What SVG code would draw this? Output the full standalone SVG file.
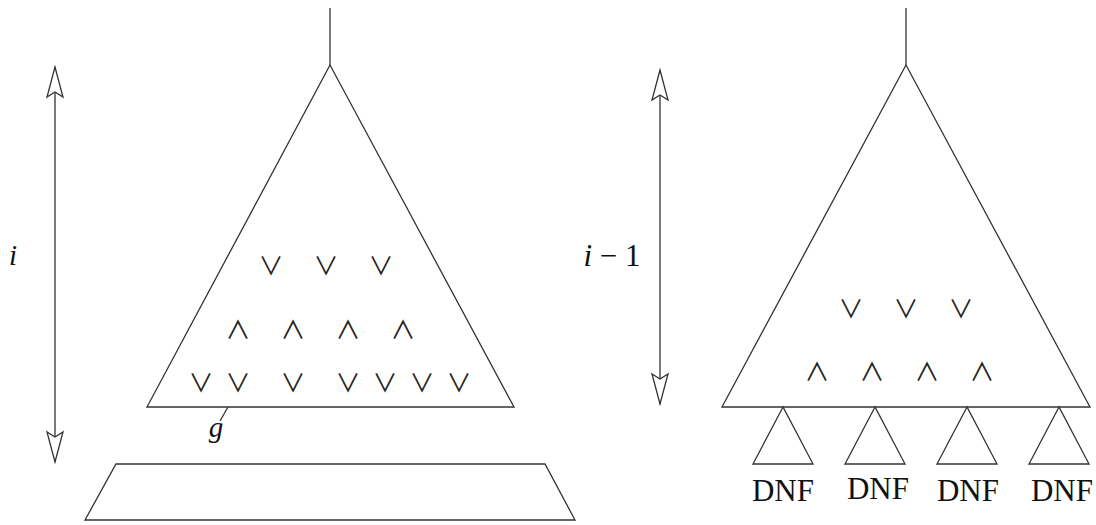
<svg xmlns="http://www.w3.org/2000/svg" width="1096" height="525" viewBox="0 0 1096 525">
<defs>
<style>
.ln{fill:none;stroke:#333;stroke-width:1.3}
.sym{font-family:"Noto Sans CJK SC","DejaVu Sans",sans-serif;font-weight:400;font-size:25px;fill:#222;text-anchor:middle}
.lbl{font-family:"Liberation Serif",serif;font-size:31px;fill:#111;text-anchor:middle}
.it{font-family:"Liberation Serif",serif;font-style:italic;font-size:29px;fill:#111;text-anchor:middle}
</style>
<marker id="oa" markerWidth="34" markerHeight="20" refX="32" refY="9" orient="auto-start-reverse" markerUnits="userSpaceOnUse" viewBox="0 0 34 18">
<path d="M32,9 L2,1 L7,9 L2,17 Z" fill="#fff" stroke="#333" stroke-width="1.3"/>
</marker>
</defs>
<rect width="1096" height="525" fill="#fff"/>
<g id="left-tree">
<line class="ln" x1="330" y1="8" x2="330" y2="65"/>
<polygon class="ln" points="330,65 147,407 514,407"/>
<text class="sym" x="271" y="275">∨</text><text class="sym" x="326" y="275">∨</text><text class="sym" x="381" y="275">∨</text>
<text class="sym" x="238" y="339">∧</text><text class="sym" x="293" y="339">∧</text><text class="sym" x="348" y="339">∧</text><text class="sym" x="403" y="339">∧</text>
<text class="sym" x="201" y="392">∨</text><text class="sym" x="238" y="392">∨</text><text class="sym" x="293" y="392">∨</text><text class="sym" x="348" y="392">∨</text><text class="sym" x="385" y="392">∨</text><text class="sym" x="422" y="392">∨</text><text class="sym" x="459" y="392">∨</text>
</g>
<g id="g-label">
<line class="ln" x1="228" y1="407" x2="220" y2="421"/>
<text class="it" x="216" y="437">g</text>
</g>
<g id="trapezoid">
<polygon class="ln" points="116,464 545,464 575,520 85,520"/>
</g>
<g id="left-arrow">
<line class="ln" x1="55" y1="67" x2="55" y2="462" marker-start="url(#oa)" marker-end="url(#oa)"/>
<text class="it" x="13" y="265">i</text>
</g>
<g id="right-tree">
<line class="ln" x1="906" y1="8" x2="906" y2="65"/>
<polygon class="ln" points="906,65 722,407 1090,407"/>
<text class="sym" x="851" y="318">∨</text><text class="sym" x="906" y="318">∨</text><text class="sym" x="961" y="318">∨</text>
<text class="sym" x="817" y="381">∧</text><text class="sym" x="872" y="381">∧</text><text class="sym" x="927" y="381">∧</text><text class="sym" x="982" y="381">∧</text>
</g>
<g id="right-arrow">
<line class="ln" x1="660" y1="70" x2="660" y2="404" marker-start="url(#oa)" marker-end="url(#oa)"/>
<text class="lbl" x="612" y="266" font-size="29"><tspan font-style="italic">i</tspan> − 1</text>
</g>
<g id="dnf1"><polygon class="ln" points="783,407 753,464 813,464"/><text class="lbl" x="783" y="501">DNF</text></g>
<g id="dnf2"><polygon class="ln" points="875,407 845,464 905,464"/><text class="lbl" x="878" y="499">DNF</text></g>
<g id="dnf3"><polygon class="ln" points="967,407 937,464 997,464"/><text class="lbl" x="968" y="501">DNF</text></g>
<g id="dnf4"><polygon class="ln" points="1059,407 1029,464 1089,464"/><text class="lbl" x="1062" y="501">DNF</text></g>
</svg>
